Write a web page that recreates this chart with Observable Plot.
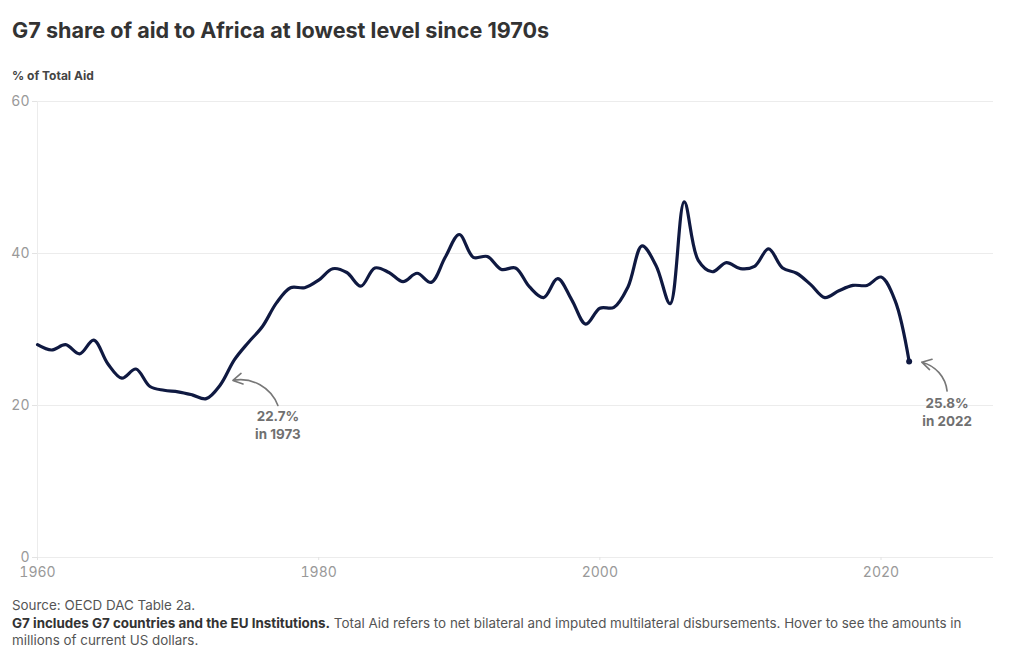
<!DOCTYPE html>
<html>
<head>
<meta charset="utf-8">
<script src="https://cdn.jsdelivr.net/npm/d3@7"></script>
<script src="https://cdn.jsdelivr.net/npm/@observablehq/plot@0.6"></script>
<style>
  html, body { margin: 0; padding: 0; background: #fff; }
  body { width: 1024px; height: 657px; overflow: hidden; font-family: Inter, "Noto Sans", sans-serif; }
  .title { position: absolute; left: 12px; top: 17px; font-size: 21.6px; font-weight: 700; color: #333; margin: 0; }
  .ylabel { position: absolute; left: 12px; top: 68px; font-size: 12px; font-weight: 700; color: #444; }
  #chart { position: absolute; left: 0; top: 88px; }
  .foot { position: absolute; left: 12px; top: 597px; width: 1000px; font-size: 13.4px; line-height: 17.5px; color: #555; }
  .foot b { color: #333; }
</style>
</head>
<body>
<div class="title">G7 share of aid to Africa at lowest level since 1970s</div>
<div class="ylabel">% of Total Aid</div>
<div id="chart"></div>
<div class="foot">Source: OECD DAC Table 2a.<br><b>G7 includes G7 countries and the EU Institutions.</b> Total Aid refers to net bilateral and imputed multilateral disbursements. Hover to see the amounts in millions of current US dollars.</div>
<script>
const years = d3.range(1960, 2023);
const shares = [
  28.0, 27.3, 28.0, 26.8, 28.6, 25.5, 23.6, 24.8, 22.5, 22.0,
  21.8, 21.4, 20.9, 22.7, 26.0, 28.3, 30.4, 33.5, 35.5, 35.5,
  36.5, 38.0, 37.5, 35.7, 38.1, 37.5, 36.3, 37.4, 36.2, 39.5,
  42.5, 39.5, 39.6, 37.9, 38.1, 35.6, 34.2, 36.7, 33.9, 30.7,
  32.8, 32.9, 35.6, 41.0, 38.4, 33.4, 46.8, 39.1, 37.6, 38.8,
  38.0, 38.3, 40.6, 38.1, 37.4, 35.9, 34.2, 35.1, 35.8, 35.8,
  36.9, 33.8, 25.8
];
const xTicks = [1960, 1980, 2000, 2020];
const yTicks = [0, 20, 40, 60];
// annotations: label anchor (year, value) and arrow target
const noteLabels = ["22.7%\nin 1973", "25.8%\nin 2022"];
const noteTextX = [1977.1, 2024.7];
const noteTextY = [19.6, 21.4];
const arrowFromX = [1977.1, 2024.7];
const arrowFromY = [20.0, 21.9];
const arrowToX = [1973.9, 2022.9];
const arrowToY = [23.3, 25.7];
const arrowBend = [-40, -35];

const data = years.map((y, i) => ({year: y, share: shares[i]}));
const notes = noteLabels.map((t, i) => ({
  text: t, tx: noteTextX[i], ty: noteTextY[i],
  x1: arrowFromX[i], y1: arrowFromY[i], x2: arrowToX[i], y2: arrowToY[i]
}));
const last = data[data.length - 1];

const chart = Plot.plot({
  width: 1024,
  height: 494,
  marginLeft: 37,
  marginRight: 31,
  marginTop: 13,
  marginBottom: 25,
  style: {fontFamily: "Inter, 'Noto Sans', sans-serif", fontSize: "14px", background: "#fff", overflow: "visible"},
  x: {domain: [1960, 2028], ticks: xTicks, tickFormat: d => String(d), label: null},
  y: {domain: [0, 60], ticks: yTicks, label: null},
  marks: [
    Plot.gridY(yTicks, {stroke: "#ececec", strokeOpacity: 1, strokeWidth: 1}),
    Plot.ruleX([1960], {stroke: "#ececec", strokeWidth: 1}),
    Plot.axisY({ticks: yTicks, tickSize: 5, tickPadding: 3, stroke: "#e3e3e3", color: "#999", fontSize: 14, label: null}),
    Plot.axisX({ticks: xTicks, tickSize: 3, tickPadding: 7, tickFormat: d => String(d), stroke: "#e3e3e3", color: "#999", fontSize: 14, label: null}),
    Plot.line(data, {x: "year", y: "share", stroke: "#0f1941", strokeWidth: 3.2, curve: "catmull-rom"}),
    Plot.dot([last], {x: "year", y: "share", r: 3, fill: "#0f1941"}),
    ...notes.map((n, i) => Plot.arrow([n], {x1: "x1", y1: "y1", x2: "x2", y2: "y2", bend: arrowBend[i], stroke: "#777", strokeWidth: 1.6, headLength: 10})),
    Plot.text(notes, {x: "tx", y: "ty", text: "text", fill: "#707070", fontWeight: 700, fontSize: 13.4, lineHeight: 1.35, lineAnchor: "top", textAnchor: "middle"})
  ]
});
document.getElementById("chart").appendChild(chart);
</script>
</body>
</html>
